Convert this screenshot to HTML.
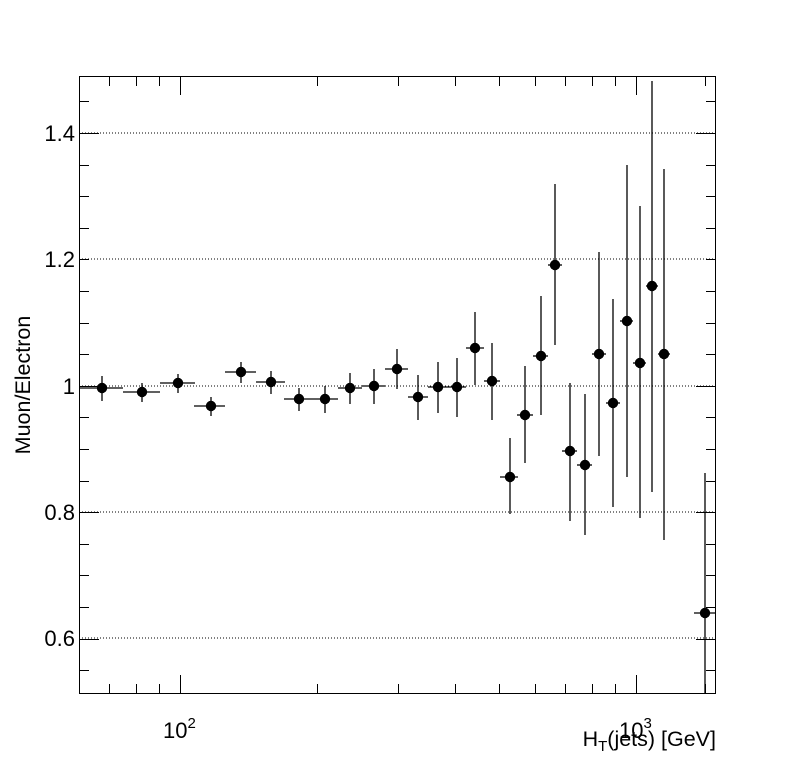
<!DOCTYPE html>
<html><head><meta charset="utf-8"><style>
body{margin:0;background:#fff;}
svg{display:block;font-family:"Liberation Sans",Arial,sans-serif;}
</style></head><body>
<svg width="796" height="772" viewBox="0 0 796 772" xmlns="http://www.w3.org/2000/svg">
<rect width="796" height="772" fill="#fff"/>
<g stroke="#000" stroke-width="1" stroke-dasharray="1,2">
<line x1="79" y1="133" x2="716" y2="133"/>
<line x1="79" y1="259" x2="716" y2="259"/>
<line x1="79" y1="386" x2="716" y2="386"/>
<line x1="79" y1="512" x2="716" y2="512"/>
<line x1="79" y1="638" x2="716" y2="638"/>
</g>
<rect x="79.5" y="76.5" width="636" height="617" fill="none" stroke="#000" stroke-width="1"/>
<g id="ticks" stroke="#000" stroke-width="1"></g>
<g id="pts" stroke="#000" stroke-width="1.3" fill="#000"></g>
<g font-size="22" fill="#000" text-anchor="end">
<text x="75" y="141">1.4</text>
<text x="75" y="267">1.2</text>
<text x="75" y="394">1</text>
<text x="75" y="520">0.8</text>
<text x="75" y="646">0.6</text>
</g>
<text x="163" y="738" font-size="22">10<tspan font-size="15" dy="-10">2</tspan></text>
<text x="619" y="738" font-size="22">10<tspan font-size="15" dy="-10">3</tspan></text>
<text x="716" y="746" font-size="21.5" text-anchor="end">H<tspan font-size="15" dy="5">T</tspan><tspan dy="-5">(jets) [GeV]</tspan></text>
<text transform="translate(30,385) rotate(-90)" font-size="21.5" text-anchor="middle">Muon/Electron</text>
<script>
var ns="http://www.w3.org/2000/svg";
function L(g,x1,y1,x2,y2){var l=document.createElementNS(ns,"line");l.setAttribute("x1",x1);l.setAttribute("y1",y1);l.setAttribute("x2",x2);l.setAttribute("y2",y2);g.appendChild(l);}
var t=document.getElementById("ticks");
function X(v){return 180+456*Math.log10(v/100);}
var vals=[60,70,80,90,100,200,300,400,500,600,700,800,900,1000,1414];
vals.forEach(function(v){var x=Math.round(X(v))+0.5;var len=(v==100||v==1000)?18:9;L(t,x,693,x,693-len);L(t,x,77,x,77+len);});
for(var i=0;i<20;i++){var y=133+(i-1)*31.6;if(y<77||y>693)continue;var yy=Math.round(y)+0.5;var maj=(Math.abs(((y-133)/31.6)%4)<0.01);var len=maj?20:10;L(t,79,yy,79+len,yy);L(t,716,yy,716-len,yy);}
var P=[[102,388,79,123,376,401],[142,392,123,160,383,402],[178,383,160,195,374,393],[211,406,194,225,397,416],[241,372,225,256,362,383],[271,382,256,285,371,394],[299,399,284,312,388,411],[325,399,312,338,386,413],[350,388,338,362,373,404],[374,386,362,385,369,404],[397,369,385,408,349,389],[418,397,408,428,375,420],[438,387,428,448,362,413],[457,387,448,466,358,417],[475,348,466,484,312,385],[492,381,484,500,343,420],
[510,477,500,518,438,514],[525,415,517,533,366,463],[541,356,533,548,296,415],[555,265,548,562,184,345],[570,451,562,577,383,521],[585,465,577,592,394,535],[599,354,592,606,252,456],[613,403,606,620,299,507],[627,321,620,633,165,477],[640,363,633,646,206,518],[652,286,646,658,81,492],[664,354,658,670,169,540],[705,613,694,716,473,693]];
var g=document.getElementById("pts");
P.forEach(function(p){L(g,p[2],p[1],p[3],p[1]);L(g,p[0],p[4],p[0],p[5]);var c=document.createElementNS(ns,"circle");c.setAttribute("cx",p[0]);c.setAttribute("cy",p[1]);c.setAttribute("r",5.2);c.setAttribute("stroke","none");g.appendChild(c);});
</script>
</svg>
</body></html>
